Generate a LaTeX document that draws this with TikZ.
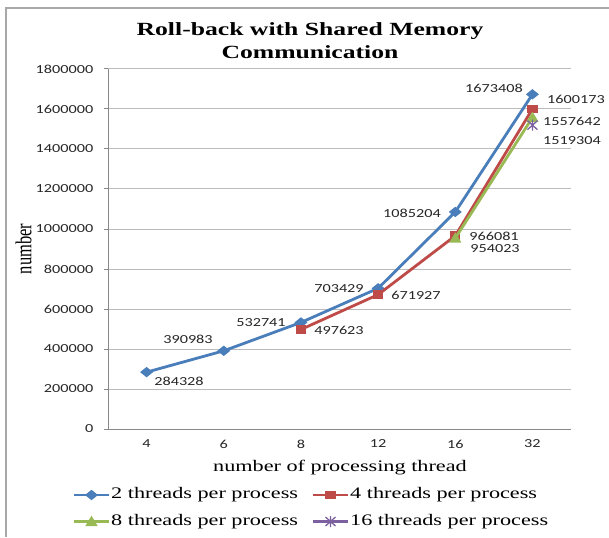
\documentclass[tikz,border=0pt]{standalone}
\usepackage{graphicx}
\usepackage{fontspec}
\usetikzlibrary{calc}
\setmainfont{Liberation Serif}
\newfontfamily\labelfont[FakeStretch=1.32]{Carlito}
\newfontfamily\serifwide[FakeStretch=1.38]{Liberation Serif}

\definecolor{seriesblue}{HTML}{4A7EBB}
\definecolor{seriesred}{HTML}{BE4B48}
\definecolor{seriesgreen}{HTML}{98B954}
\definecolor{seriespurple}{HTML}{7D60A0}
\definecolor{gridgray}{HTML}{BBBBBB}
\definecolor{axisgray}{HTML}{888888}
\definecolor{framegray}{HTML}{A8A8A8}

\tikzstyle{gridline} = [gridgray, line width=1pt]
\tikzstyle{axisline} = [axisgray, line width=1pt]
\tikzstyle{series} = [line width=2.8pt, line join=round]
\tikzstyle{value} = [
    font=\labelfont\fontsize{12.3}{14}\selectfont,
    text=black!85,
    inner sep=0pt
]
\tikzstyle{legendtext} = [
    font=\serifwide\fontsize{16.1}{19}\selectfont,
    anchor=west,
    inner sep=0pt
]
\tikzset{
    dmark/.pic = {\fill (-6.5,0) -- (0,-5.2) -- (6.5,0) -- (0,5.2) -- cycle;},
    smark/.pic = {\fill (-5.2,-4.4) rectangle (5.2,4.4);},
    tmark/.pic = {\fill (-6.2,4.5) -- (6.2,4.5) -- (0,-5.8) -- cycle;},
    amark/.pic = {\draw[line width=1.3pt] (0,-5.5) -- (0,5.5) (-5,-4.5) -- (5,4.5) (-5,4.5) -- (5,-4.5);}
}

\begin{document}
\begin{tikzpicture}[x=1pt, y=-1pt]
    \useasboundingbox (0,0) rectangle (609,537);
    % frame
    \draw[framegray, line width=1.5pt] (6,537) -- (6,8) -- (609,8);

    % grid and value axis
    \foreach \k in {0,...,9} {
        \pgfmathsetmacro\gy{429-40*\k}
        \draw[gridline] (108,\gy) -- (571,\gy);
        \draw[axisline] (104,\gy) -- (108,\gy);
        \node[value, anchor=east] (tick\k) at (93.5,\gy) {\number\numexpr200000*\k\relax};
    }
    \draw[axisline] (108,69) -- (108,429) -- (571,429);
    \foreach \t [count=\i from 0] in {4,6,8,12,16,32}
        \node[value] (cat\i) at ({146.6+77.17*\i},444) {\t};

    % data points
    \begin{scope}[shift={(146.6,429)}, x=77.17pt, y=0.2pt]
        \foreach \name/\i/\v in {b1/0/284.328, b2/1/390.983, b3/2/532.741,
                b4/3/703.429, b5/4/1085.204, b6/5/1673.408,
                r3/2/497.623, r4/3/671.927, r5/4/966.081, r6/5/1600.173,
                g5/4/954.023, g6/5/1557.642, p6/5/1519.304}
            \coordinate (\name) at (\i,\v);
    \end{scope}

    % series
    \draw[series, seriesblue] (b1) -- (b2) -- (b3) -- (b4) -- (b5) -- (b6);
    \foreach \p in {b1,b2,b3,b4,b5,b6} \pic[seriesblue] at (\p) {dmark};
    \draw[series, seriesred] (r3) -- (r4) -- (r5) -- (r6);
    \foreach \p in {r3,r4,r5,r6} \pic[seriesred] at (\p) {smark};
    \draw[series, seriesgreen] (g5) -- (g6);
    \foreach \p in {g5,g6} \pic[seriesgreen] at (\p) {tmark};
    \pic[seriespurple] at (p6) {amark};

    % data labels
    \foreach \name/\x/\y/\txt in {lb1/179/381/284328, lb2/188/339/390983,
            lb3/261/323/532741, lb4/339/289/703429, lb5/412/213/1085204,
            lb6/494/88/1673408, lr3/339/330/497623, lr4/416/295/671927,
            lr5/494/236/966081, lr6/576/99/1600173, lg5/495/249/954023,
            lg6/572/121/1557642, lp6/572/141/1519304}
        \node[value] (\name) at (\x,\y) {\txt};

    % titles
    \node[align=center, anchor=north, inner sep=0pt,
          font=\serifwide\bfseries\fontsize{18.6}{23}\selectfont]
          (title) at (310,22.3) {Roll-back with Shared Memory\\Communication};
    \node[anchor=base, inner sep=0pt, font=\serifwide\fontsize{16.1}{19}\selectfont]
          (xtitle) at (340,471) {number of processing thread};
    \node[rotate=90, inner sep=0pt] (ytitle) at (23.5,249)
          {\scalebox{1}[1.38]{\fontsize{16.5}{19}\selectfont number}};

    % legend
    \foreach \s/\c/\pk/\lx/\ly/\txt in {
            one/seriesblue/dmark/74/495/2 threads per process,
            two/seriesred/smark/313/495/4 threads per process,
            three/seriesgreen/tmark/74/521.5/8 threads per process,
            four/seriespurple/amark/313/521.5/16 threads per process} {
        \coordinate (\s a) at (\lx,\ly);
        \coordinate (\s b) at (\lx+35,\ly);
        \draw[\c, line width=2.8pt] (\s a) -- (\s b);
        \pic[\c] at ($(\s a)!0.5!(\s b)$) {\pk};
        \node[legendtext] (\s text) at (\lx+37,\ly) {\txt};
    }
\end{tikzpicture}
\end{document}
